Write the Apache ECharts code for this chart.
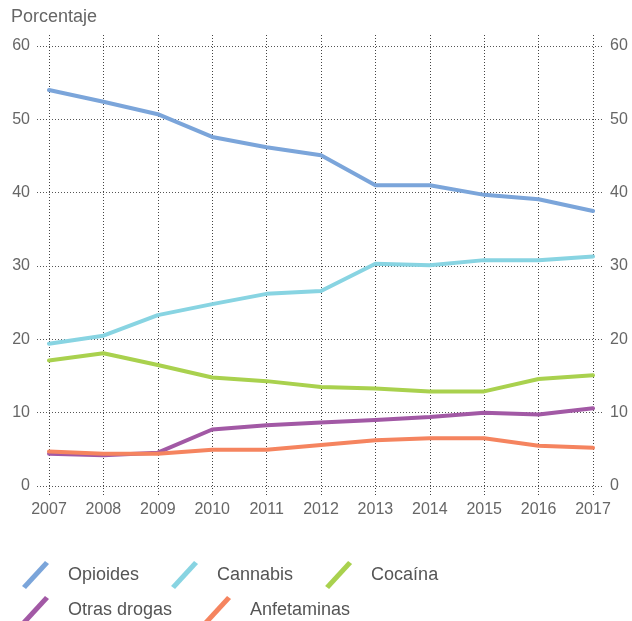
<!DOCTYPE html>
<html><head><meta charset="utf-8">
<script src="https://cdn.jsdelivr.net/npm/echarts@6/dist/echarts.min.js"></script>
<style>html,body{margin:0;padding:0;background:#fff}#c{width:632px;height:621px}</style>
</head><body><div id="c"></div>
<script>
const years = ['2007','2008','2009','2010','2011','2012','2013','2014','2015','2016','2017'];
const opioides = [54.0, 52.4, 50.7, 47.6, 46.2, 45.1, 41.0, 41.0, 39.7, 39.1, 37.5];
const cannabis = [19.4, 20.5, 23.3, 24.8, 26.2, 26.6, 30.3, 30.1, 30.8, 30.8, 31.3];
const cocaina = [17.1, 18.1, 16.5, 14.8, 14.3, 13.5, 13.3, 12.9, 12.9, 14.6, 15.1];
const otras = [4.4, 4.2, 4.55, 7.7, 8.3, 8.65, 9.0, 9.4, 10.0, 9.75, 10.6];
const anfetaminas = [4.7, 4.4, 4.4, 4.95, 4.95, 5.6, 6.25, 6.5, 6.5, 5.5, 5.2];
const seriesNames = ['Opioides', 'Cannabis', 'Cocaína', 'Otras drogas', 'Anfetaminas'];
const seriesData = [opioides, cannabis, cocaina, otras, anfetaminas];
const colors = ['#7ba5da', '#88d4e2', '#a9d14e', '#a259a5', '#f5845f'];
const yTicks = {min: 0, max: 60, interval: 10};

const font = 'Liberation Sans';
const chart = echarts.init(document.getElementById('c'));
const icon = 'path://M0,25 L23,0 L27,3 L4,28 Z';
const legendCommon = {
  icon: icon, itemWidth: 27, itemHeight: 28, itemGap: 32,
  textStyle: {fontFamily: font, fontSize: 18, color: '#555', padding: [0, 0, 0, 14]},
  selectedMode: false
};
chart.setOption({
  animation: false,
  color: colors,
  title: {text: 'Porcentaje', left: 11, top: 8, padding: 0, textStyle: {fontFamily: font, fontSize: 18, fontWeight: 'normal', color: '#666'}},
  legend: [
    Object.assign({data: seriesNames.slice(0, 3), left: 22, top: 561, padding: 0}, legendCommon),
    Object.assign({data: seriesNames.slice(3), left: 22, top: 596, padding: 0}, legendCommon)
  ],
  grid: [
    {left: 49, right: 39, top: 46, bottom: 135},
    {left: 37, right: 29, top: 46, bottom: 135},
    {left: 49, right: 39, top: 35, bottom: 124}
  ],
  xAxis: [
    {gridIndex: 0, type: 'category', data: years, boundaryGap: false,
     axisLine: {show: false}, axisTick: {show: false}, splitLine: {show: false},
     axisLabel: {fontFamily: font, fontSize: 16, color: '#666', margin: 16}},
    {gridIndex: 1, type: 'value', show: false},
    {gridIndex: 2, type: 'category', data: years, boundaryGap: false,
     axisLine: {show: false}, axisTick: {show: false}, axisLabel: {show: false},
     splitLine: {show: true, lineStyle: {type: [1, 2], color: '#444', width: 1}}}
  ],
  yAxis: [
    Object.assign({gridIndex: 0, type: 'value', position: 'left',
     axisLine: {show: false}, axisTick: {show: false}, splitLine: {show: false},
     axisLabel: {fontFamily: font, fontSize: 16, color: '#666', margin: 19}}, yTicks),
    Object.assign({gridIndex: 0, type: 'value', position: 'right',
     axisLine: {show: false}, axisTick: {show: false}, splitLine: {show: false},
     axisLabel: {fontFamily: font, fontSize: 16, color: '#666', margin: 17}}, yTicks),
    Object.assign({gridIndex: 1, type: 'value',
     axisLine: {show: false}, axisTick: {show: false}, axisLabel: {show: false},
     splitLine: {show: true, lineStyle: {type: [1, 2], color: '#555', width: 1}}}, yTicks),
    {gridIndex: 2, type: 'value', show: false, min: 0, max: 1}
  ],
  series: seriesNames.map((n, i) => ({
    name: n, type: 'line', xAxisIndex: 0, yAxisIndex: 0,
    data: seriesData[i], symbol: 'none', smooth: false,
    lineStyle: {width: 4, color: colors[i], join: 'round', cap: 'round'},
    itemStyle: {color: colors[i]}, z: 5
  }))
});
</script></body></html>
